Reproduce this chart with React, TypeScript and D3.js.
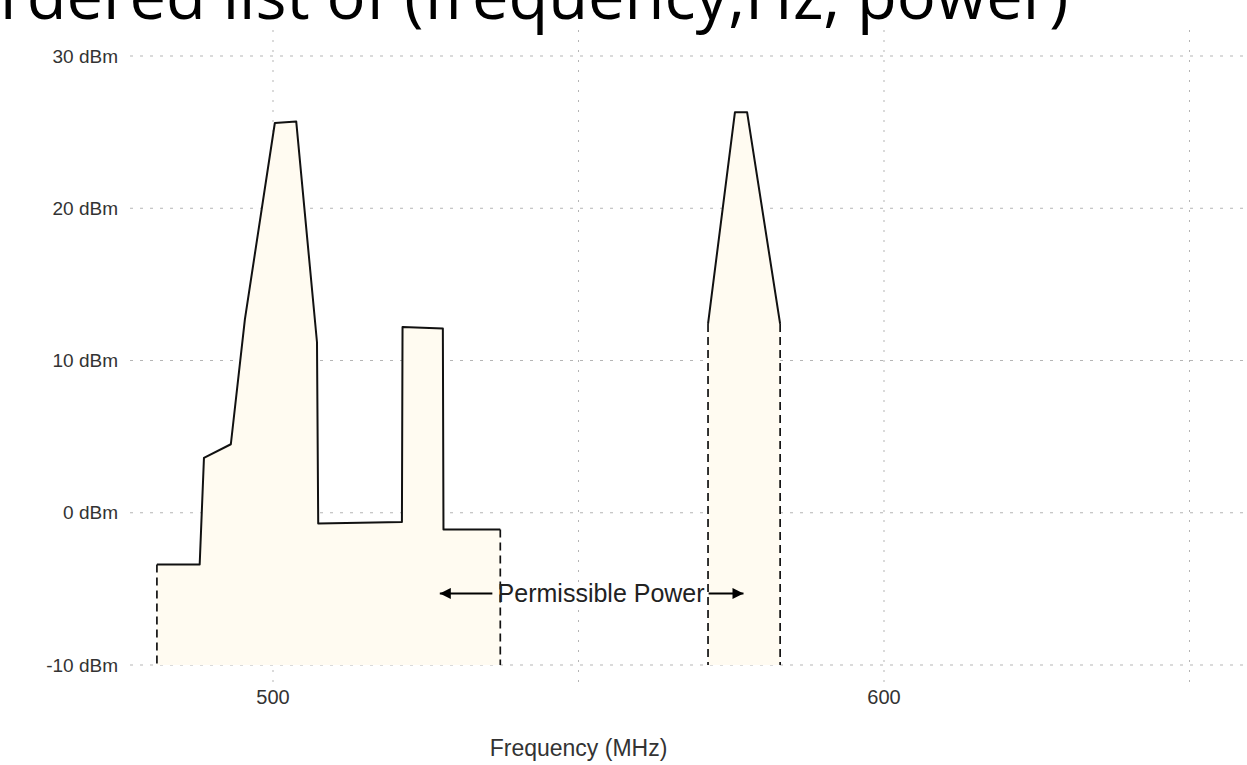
import React, { useEffect, useRef } from "react";
import * as d3 from "d3";

// permissible power bands: [frequency MHz, power dBm]
const bandLow: [number, number][] = [
  [481, -3.4],
  [488, -3.4],
  [488.7, 3.6],
  [493.1, 4.5],
  [495.4, 12.7],
  [500.3, 25.6],
  [503.8, 25.7],
  [507.2, 11.2],
  [507.4, -0.7],
  [521.1, -0.6],
  [521.2, 12.2],
  [527.8, 12.1],
  [527.9, -1.1],
  [537.2, -1.1],
];
const bandHigh: [number, number][] = [
  [571.2, 12.4],
  [575.6, 26.3],
  [577.6, 26.3],
  [583.0, 12.4],
];
const floorPower = -10;

const yTicks = [-10, 0, 10, 20, 30];
const xTickLabels = [500, 600];
const xGrid = [500, 550, 600, 650];

const annotationText = "Permissible Power";
const annotationAt: [number, number] = [553.7, -5.3];
const arrowLeft: [number, number] = [535.9, 527.3];
const arrowRight: [number, number] = [571.3, 577.0];

const titleText = "ordered list of (frequency,Hz, power)";

const width = 1247;
const height = 765;

const App = () => {
  const svgRef = useRef<SVGSVGElement | null>(null);

  useEffect(() => {
    const svg = d3.select(svgRef.current);
    svg.selectAll("*").remove();

    const x = d3.scaleLinear().domain([500, 600]).range([273, 884]);
    const y = d3.scaleLinear().domain([-10, 30]).range([665, 56]);

    const labelFont = "'Liberation Sans', Arial, sans-serif";

    // grid
    svg
      .append("g")
      .selectAll("line")
      .data(yTicks)
      .join("line")
      .attr("x1", 130)
      .attr("x2", width)
      .attr("y1", (d) => y(d))
      .attr("y2", (d) => y(d))
      .attr("stroke", "#b5b5b5")
      .attr("stroke-width", 1)
      .attr("stroke-dasharray", "3,7");

    svg
      .append("g")
      .selectAll("line")
      .data(xGrid)
      .join("line")
      .attr("x1", (d) => x(d))
      .attr("x2", (d) => x(d))
      .attr("y1", 30)
      .attr("y2", 686)
      .attr("stroke", "#b5b5b5")
      .attr("stroke-width", 1)
      .attr("stroke-dasharray", "2,8");

    // title (cut off by the top edge)
    svg
      .append("text")
      .attr("x", -39)
      .attr("y", 19)
      .attr("font-family", "'Open Sans', sans-serif")
      .attr("font-size", 65)
      .attr("fill", "#000")
      .text(titleText);

    // bands
    const area = d3
      .area<[number, number]>()
      .x((d) => x(d[0]))
      .y0(y(floorPower))
      .y1((d) => y(d[1]));
    const line = d3
      .line<[number, number]>()
      .x((d) => x(d[0]))
      .y((d) => y(d[1]));

    [bandLow, bandHigh].forEach((band) => {
      svg
        .append("path")
        .attr("d", area(band))
        .attr("fill", "#fffbf1");
      svg
        .append("path")
        .attr("d", line(band))
        .attr("fill", "none")
        .attr("stroke", "#111")
        .attr("stroke-width", 2)
        .attr("stroke-linejoin", "round");
      const ends = [band[0], band[band.length - 1]];
      svg
        .append("g")
        .selectAll("line")
        .data(ends)
        .join("line")
        .attr("x1", (d) => x(d[0]))
        .attr("x2", (d) => x(d[0]))
        .attr("y1", (d) => y(d[1]))
        .attr("y2", y(floorPower))
        .attr("stroke", "#111")
        .attr("stroke-width", 1.7)
        .attr("stroke-dasharray", "8,5");
    });

    // y labels
    svg
      .append("g")
      .selectAll("text")
      .data(yTicks)
      .join("text")
      .attr("x", 118)
      .attr("y", (d) => y(d))
      .attr("dy", "0.35em")
      .attr("text-anchor", "end")
      .attr("font-family", labelFont)
      .attr("font-size", 19)
      .attr("fill", "#333")
      .text((d) => `${d} dBm`);

    // x labels
    svg
      .append("g")
      .selectAll("text")
      .data(xTickLabels)
      .join("text")
      .attr("x", (d) => x(d))
      .attr("y", 697)
      .attr("dy", "0.35em")
      .attr("text-anchor", "middle")
      .attr("font-family", labelFont)
      .attr("font-size", 20)
      .attr("fill", "#333")
      .text((d) => d);

    svg
      .append("text")
      .attr("x", x(550))
      .attr("y", 748)
      .attr("dy", "0.35em")
      .attr("text-anchor", "middle")
      .attr("font-family", labelFont)
      .attr("font-size", 23)
      .attr("fill", "#333")
      .text("Frequency (MHz)");

    // annotation with arrows
    const defs = svg.append("defs");
    defs
      .append("marker")
      .attr("id", "arrowhead")
      .attr("viewBox", "0 0 10 10")
      .attr("refX", 10)
      .attr("refY", 5)
      .attr("markerWidth", 7)
      .attr("markerHeight", 5.5)
      .attr("markerUnits", "strokeWidth")
      .attr("orient", "auto")
      .append("path")
      .attr("d", "M0,0L10,5L0,10z")
      .attr("fill", "#000");

    svg
      .append("g")
      .selectAll("line")
      .data([arrowLeft, arrowRight])
      .join("line")
      .attr("x1", (d) => x(d[0]))
      .attr("x2", (d) => x(d[1]))
      .attr("y1", y(annotationAt[1]))
      .attr("y2", y(annotationAt[1]))
      .attr("stroke", "#000")
      .attr("stroke-width", 2)
      .attr("marker-end", "url(#arrowhead)");

    svg
      .append("text")
      .attr("x", x(annotationAt[0]))
      .attr("y", y(annotationAt[1]))
      .attr("dy", "0.35em")
      .attr("text-anchor", "middle")
      .attr("font-family", labelFont)
      .attr("font-size", 25)
      .attr("fill", "#222")
      .text(annotationText);
  }, []);

  return (
    <svg
      ref={svgRef}
      width={width}
      height={height}
      style={{ position: "absolute", left: 0, top: 0, background: "#fff" }}
    ></svg>
  );
};

export default App;
